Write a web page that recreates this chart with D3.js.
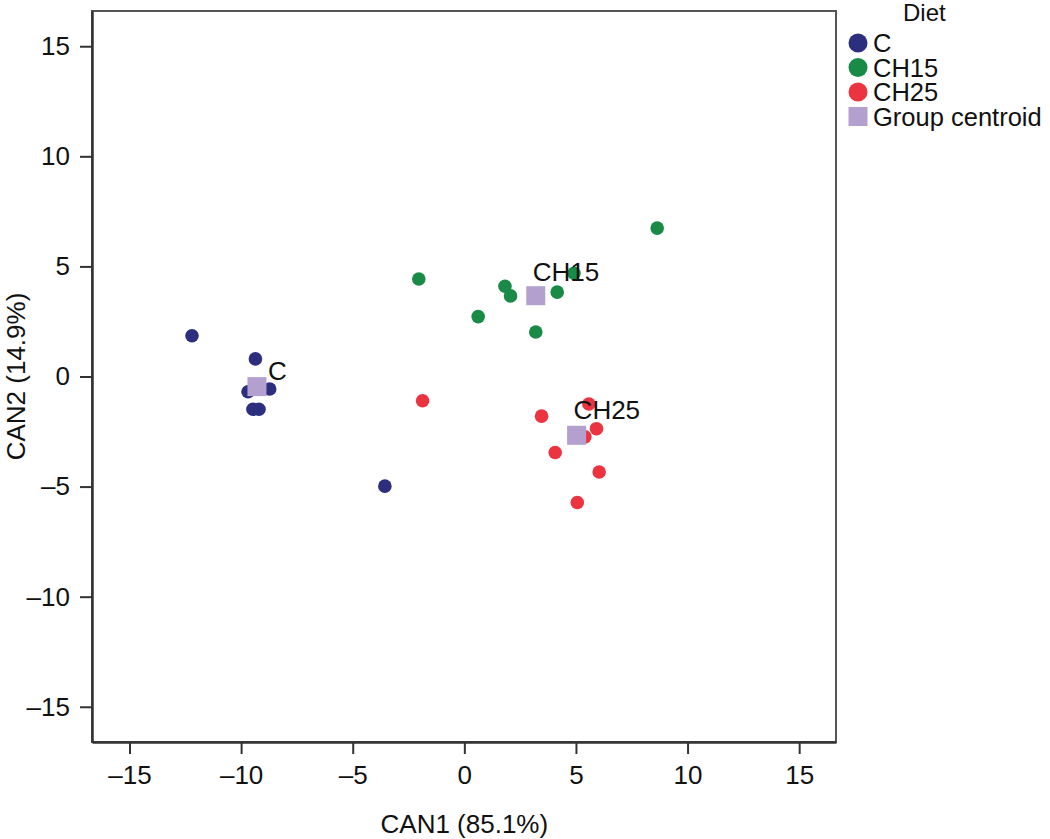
<!DOCTYPE html>
<html>
<head>
<meta charset="utf-8">
<title>CAN1 vs CAN2</title>
<script src="https://cdn.jsdelivr.net/npm/d3@7"></script>
<style>
  body { margin: 0; background: #fff; }
  text { font-family: "Liberation Sans", Arial, sans-serif; fill: #111; }
</style>
</head>
<body>
<div id="chart"></div>
<script>
// group scores
var groups = ["C", "CH15", "CH25"];
var colors = ["#2c2f7d", "#1a8b47", "#ec3440"];
var cX    = [-12.2, -9.36, -9.69, -8.72, -9.47, -9.2, -3.56];
var cY    = [1.85, 0.80, -0.69, -0.57, -1.49, -1.49, -4.98];
var ch15X = [-2.04, 1.82, 2.07, 0.62, 4.16, 4.91, 3.2, 8.64];
var ch15Y = [4.43, 4.1, 3.66, 2.72, 3.83, 4.69, 2.02, 6.74];
var ch25X = [-1.87, 3.46, 5.58, 5.92, 5.4, 4.07, 6.04, 5.06];
var ch25Y = [-1.1, -1.8, -1.25, -2.37, -2.74, -3.45, -4.34, -5.72];
var centroidX = [-9.29, 3.2, 5.03];
var centroidY = [-0.46, 3.67, -2.67];
var ticks = [-15, -10, -5, 0, 5, 10, 15];

var width = 1050, height = 839;
var mLeft = 92, mRight = 836, mTop = 11, mBottom = 742;

var svg = d3.select("#chart").append("svg")
  .attr("width", width)
  .attr("height", height);

var x = d3.scaleLinear().domain([-16.68, 16.65]).range([mLeft, mRight]);
var y = d3.scaleLinear().domain([-16.6, 16.6]).range([mBottom, mTop]);

// frame
svg.append("rect")
  .attr("x", mLeft).attr("y", mTop)
  .attr("width", mRight - mLeft).attr("height", mBottom - mTop)
  .attr("fill", "none").attr("stroke", "#555").attr("stroke-width", 2);

var fmt = function(d) { return d < 0 ? "\u2013" + Math.abs(d) : d; };

var xAxis = svg.append("g")
  .attr("transform", "translate(0," + mBottom + ")")
  .call(d3.axisBottom(x).tickValues(ticks).tickFormat(fmt).tickSize(12).tickSizeOuter(0).tickPadding(12));
var yAxis = svg.append("g")
  .attr("transform", "translate(" + mLeft + ",0)")
  .call(d3.axisLeft(y).tickValues(ticks).tickFormat(fmt).tickSize(12).tickSizeOuter(0).tickPadding(10));

[xAxis, yAxis].forEach(function(a) {
  a.select(".domain").attr("stroke", "#333").attr("stroke-width", 2.5);
  a.selectAll(".tick line").attr("stroke", "#333").attr("stroke-width", 2);
  a.selectAll(".tick text").style("font-size", "26px").attr("fill", "#111")
    .style("font-family", "Liberation Sans, Arial, sans-serif");
});

// axis titles
svg.append("text")
  .attr("x", x(0)).attr("y", 833)
  .attr("text-anchor", "middle")
  .style("font-size", "26px")
  .text("CAN1 (85.1%)");
svg.append("text")
  .attr("transform", "translate(25," + y(0) + ") rotate(-90)")
  .attr("text-anchor", "middle")
  .style("font-size", "26px")
  .text("CAN2 (14.9%)");

// points
var pts = [];
[[cX, cY], [ch15X, ch15Y], [ch25X, ch25Y]].forEach(function(g, gi) {
  g[0].forEach(function(v, i) { pts.push({ x: v, y: g[1][i], g: gi }); });
});

svg.selectAll("circle.pt").data(pts).enter().append("circle")
  .attr("class", "pt")
  .attr("cx", function(d) { return x(d.x); })
  .attr("cy", function(d) { return y(d.y); })
  .attr("r", 6.8)
  .attr("fill", function(d) { return colors[d.g]; });

// centroids
var sq = 19;
svg.selectAll("rect.cent").data(centroidX).enter().append("rect")
  .attr("class", "cent")
  .attr("x", function(d) { return x(d) - sq / 2; })
  .attr("y", function(d, i) { return y(centroidY[i]) - sq / 2; })
  .attr("width", sq).attr("height", sq)
  .attr("fill", "#b3a0cf");

svg.selectAll("text.cent").data(groups).enter().append("text")
  .attr("class", "cent")
  .attr("x", function(d, i) { return x(centroidX[i]) + [11, -3, -3][i]; })
  .attr("y", function(d, i) { return y(centroidY[i]) + [-7, -15, -16][i]; })
  .style("font-size", "26px")
  .text(function(d) { return d; });

// legend
var lg = svg.append("g");
lg.append("text").attr("x", 903).attr("y", 21).style("font-size", "24px").text("Diet");
var legItems = groups.concat(["Group centroid"]);
legItems.forEach(function(d, i) {
  var cy = 43 + i * 24.5;
  if (i < 3) {
    lg.append("circle").attr("cx", 858).attr("cy", cy).attr("r", 9.5).attr("fill", colors[i]);
  } else {
    lg.append("rect").attr("x", 848.5).attr("y", cy - 9.5).attr("width", 19).attr("height", 19).attr("fill", "#b3a0cf");
  }
  lg.append("text").attr("x", 873).attr("y", cy + 9).style("font-size", "25.5px").text(d);
});
</script>
</body>
</html>
